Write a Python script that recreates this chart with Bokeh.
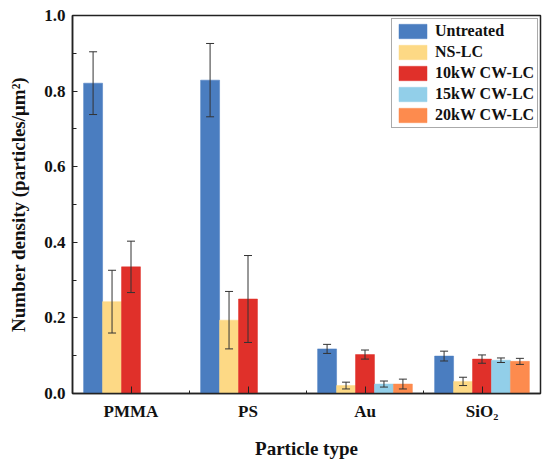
import math
from bokeh.plotting import figure
from bokeh.models import (ColumnDataSource, Range1d, FixedTicker, Whisker, TeeHead,
                          NumeralTickFormatter)
from bokeh.embed import file_html
from bokeh.resources import INLINE

categories = ["PMMA", "PS", "Au", "SiO\u2082"]
series = ["Untreated", "NS-LC", "10kW CW-LC", "15kW CW-LC", "20kW CW-LC"]
colors = ["#4a7dc0", "#fdd985", "#e0302a", "#92cfe9", "#fd8b4e"]

untreated = [0.821, 0.829, 0.118, 0.099]
untreated_err = [0.083, 0.097, 0.012, 0.013]
ns_lc = [0.243, 0.194, 0.021, 0.032]
ns_lc_err = [0.083, 0.076, 0.009, 0.011]
cw10 = [0.335, 0.250, 0.103, 0.091]
cw10_err = [0.068, 0.115, 0.012, 0.011]
cw15 = [None, None, 0.025, 0.088]
cw15_err = [None, None, 0.008, 0.006]
cw20 = [None, None, 0.025, 0.085]
cw20_err = [None, None, 0.013, 0.008]

values = [untreated, ns_lc, cw10, cw15, cw20]
errors = [untreated_err, ns_lc_err, cw10_err, cw15_err, cw20_err]

y_ticks = [0.0, 0.2, 0.4, 0.6, 0.8, 1.0]
y_minor = [0.1, 0.3, 0.5, 0.7, 0.9]

bar_w = 0.162
FONT = "Liberation Serif"

p = figure(width=550, height=462, output_backend="svg", toolbar_location=None,
           x_range=Range1d(0, len(categories)), y_range=Range1d(0, 1.0),
           min_border_left=72, min_border_right=10, min_border_top=15, min_border_bottom=69)
p.xgrid.visible = False
p.ygrid.visible = False
p.outline_line_color = "#222222"
p.outline_line_width = 1.5

for k, (name, vals, errs, col) in enumerate(zip(series, values, errors, colors)):
    xs, ys, lo, hi = [], [], [], []
    for i, (v, e) in enumerate(zip(vals, errs)):
        if v is None:
            continue
        xs.append(i + 0.5 + (k - 2) * bar_w)
        ys.append(v)
        lo.append(v - e)
        hi.append(v + e)
    src = ColumnDataSource(dict(x=xs, top=ys, lower=lo, upper=hi))
    p.vbar(x="x", top="top", width=bar_w, source=src, fill_color=col,
           line_color=col, line_width=0.5, legend_label=name)
    w = Whisker(base="x", upper="upper", lower="lower", source=src,
                line_color="#333333", line_width=1, level="overlay",
                upper_head=TeeHead(size=8, line_color="#333333", line_width=1),
                lower_head=TeeHead(size=8, line_color="#333333", line_width=1))
    p.add_layout(w)

# axes
xa = p.xaxis[0]
xa.ticker = FixedTicker(ticks=[i + 0.5 for i in range(len(categories))],
                        minor_ticks=list(range(1, len(categories))))
xa.major_label_overrides = {i + 0.5: c for i, c in enumerate(categories)}
ya = p.yaxis[0]
ya.ticker = FixedTicker(ticks=y_ticks, minor_ticks=y_minor)
ya.formatter = NumeralTickFormatter(format="0.0")

for ax in (xa, ya):
    ax.axis_line_color = "#222222"
    ax.axis_line_width = 1.5
    ax.major_tick_line_color = "#222222"
    ax.minor_tick_line_color = "#222222"
    ax.major_tick_out = 0
    ax.minor_tick_out = 0
    ax.major_label_text_font = FONT
    ax.major_label_text_font_style = "bold"
    ax.major_label_text_font_size = "17px"
    ax.major_label_text_color = "#111111"
    ax.axis_label_text_font = FONT
    ax.axis_label_text_font_style = "bold"
    ax.axis_label_text_font_size = "19px"
    ax.axis_label_text_color = "#111111"

xa.major_tick_in = 7
xa.minor_tick_in = 3
ya.major_tick_in = 5
ya.minor_tick_in = 4
xa.major_label_standoff = 8
ya.major_label_standoff = 7
xa.axis_label = "Particle type"
ya.axis_label = "Number density (particles/\u03bcm\u00b2)"
xa.axis_label_standoff = 14
ya.axis_label_standoff = 12

p.legend.location = (319, 265)
p.legend.label_text_font = FONT
p.legend.label_text_font_style = "bold"
p.legend.label_text_font_size = "16px"
p.legend.label_text_color = "#111111"
p.legend.glyph_width = 35
p.legend.glyph_height = 18
p.legend.label_height = 18
p.legend.spacing = 3
p.legend.padding = 3
p.legend.margin = 0
p.legend.border_line_color = "#555555"
p.legend.border_line_width = 1
p.legend.label_standoff = 5

open("out.html", "w").write(file_html(p, INLINE))
